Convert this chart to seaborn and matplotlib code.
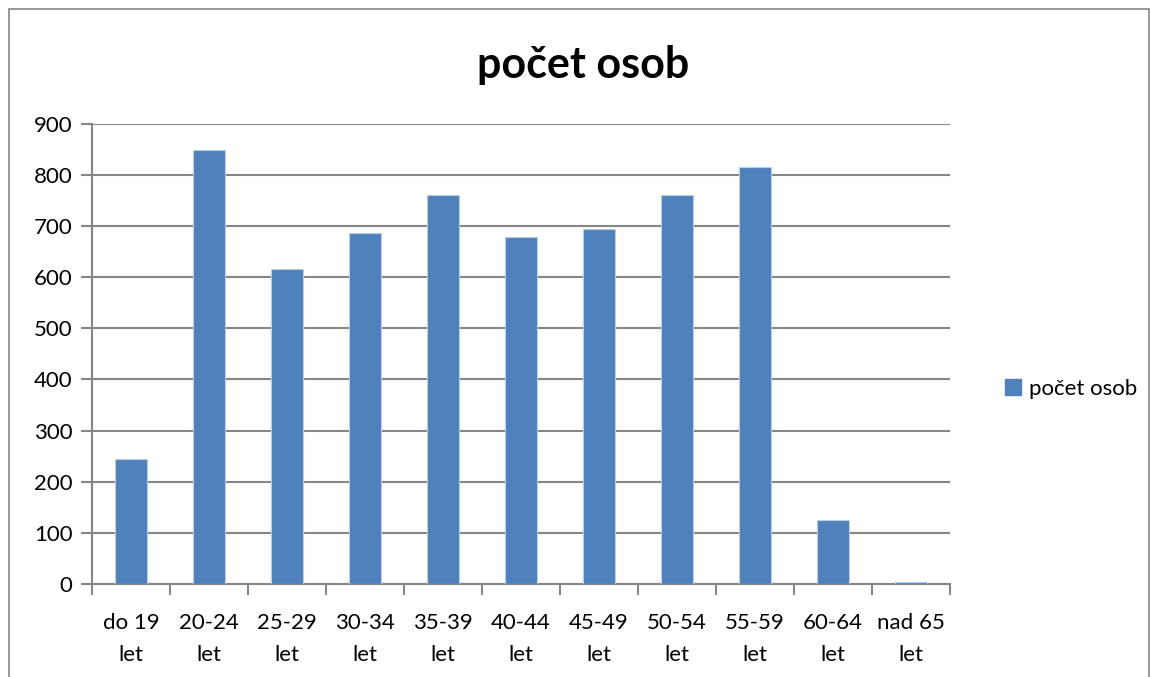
import matplotlib
matplotlib.use("Agg")
import matplotlib.pyplot as plt
import seaborn as sns
import pandas as pd
import numpy as np
from matplotlib.patches import Rectangle, Patch

categories = ["do 19\nlet", "20-24\nlet", "25-29\nlet", "30-34\nlet", "35-39\nlet",
              "40-44\nlet", "45-49\nlet", "50-54\nlet", "55-59\nlet", "60-64\nlet", "nad 65\nlet"]
values = [244, 848, 616, 686, 760, 678, 693, 760, 815, 125, 4]
yticks = [0, 100, 200, 300, 400, 500, 600, 700, 800, 900]
series_name = "počet osob"

sns.set_theme(style="white")
plt.rcParams['font.family'] = ['Lato', 'DejaVu Sans']
plt.rcParams['text.color'] = 'black'
plt.rcParams['xtick.color'] = 'black'
plt.rcParams['ytick.color'] = 'black'

df = pd.DataFrame({"cat": categories, "val": values})

fig = plt.figure(figsize=(11.5, 6.77), dpi=100)
ax = fig.add_axes([92/1150, 1-584/677, (950-92)/1150, (584-123.5)/677])

grid_c = "#868686"
sns.barplot(data=df, x="cat", y="val", color="#4F81BD", saturation=1, width=0.4,
            edgecolor="#B9CDE5", linewidth=0.8, ax=ax, zorder=3)

ax.set_ylim(0, 900)
ax.set_xlim(-0.5, len(categories) - 0.5)
ax.set_yticks(yticks)
ax.set_yticklabels([str(t) for t in yticks], fontsize=16, color="black")
ax.yaxis.grid(True, color=grid_c, linewidth=1.5, zorder=0)
ax.set_axisbelow(True)

ax.set_xticks(range(len(categories)))
ax.set_xticklabels(categories, fontsize=16, linespacing=1.75, color="black")
ax.tick_params(axis="x", which="major", length=0, pad=21)
ax.set_xticks(np.arange(-0.5, len(categories), 1.0), minor=True)
ax.tick_params(axis="x", which="minor", length=8, width=1.5, color=grid_c, direction="out", bottom=True)
ax.tick_params(axis="y", length=8, width=1.5, color=grid_c, direction="out", left=True, pad=6)
ax.set_xlabel("")
ax.set_ylabel("")

for s in ["top", "right"]:
    ax.spines[s].set_visible(False)
for s in ["left", "bottom"]:
    ax.spines[s].set_color(grid_c)
    ax.spines[s].set_linewidth(1.5)

fig.text(583/1150, 1-65/677, series_name, ha="center", va="center", fontsize=31,
         fontweight="bold", color="black")

handle = Patch(facecolor="#4F81BD", edgecolor="#4F81BD")
fig.legend([handle], [series_name], loc="center left", bbox_to_anchor=(985/1150, 1-389/677),
           frameon=False, fontsize=16, handlelength=0.7, handleheight=0.7, handletextpad=0.4)

fig.patches.append(Rectangle((9/1150, -0.01), 1 - 10/1150, 1 - 9/677 + 0.01, transform=fig.transFigure,
                             fill=False, edgecolor="#868686", linewidth=1.2))

fig.savefig("out.png", dpi=100)
